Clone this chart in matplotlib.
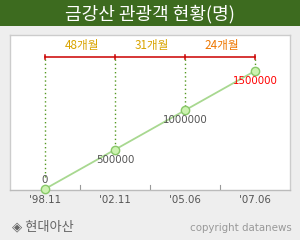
import matplotlib
matplotlib.use("Agg")
import matplotlib.pyplot as plt

plt.rcParams['font.family'] = ['Noto Sans CJK KR', 'DejaVu Sans']

title = "금강산 관광객 현황(명)"
periods = ["'98.11", "'02.11", "'05.06", "'07.06"]
visitors = [0, 500000, 1000000, 1500000]
value_labels = ["0", "500000", "1000000", "1500000"]
intervals = ["48개월", "31개월", "24개월"]
source = "◈ 현대아산"
credit = "copyright datanews"

fig = plt.figure(figsize=(3.0, 2.4), dpi=100)
fig.patch.set_facecolor('#eeeeee')

# title bar
bar = fig.add_axes([0, 1 - 26/240, 1, 26/240])
bar.set_facecolor('#3d6b1f')
bar.set_xticks([]); bar.set_yticks([])
for s in bar.spines.values():
    s.set_visible(False)
bar.text(0.5, 0.47, title, color='white', fontsize=13, fontweight='medium',
         ha='center', va='center', transform=bar.transAxes)

ax = fig.add_axes([10/300, 50/240, 280/300, 155/240])
ax.set_facecolor('white')
x = list(range(len(periods)))
ax.set_xlim(-0.5, len(periods) - 0.5)
ylo, yhi = -13000, 1957000
ax.set_ylim(ylo, yhi)

for s in ax.spines.values():
    s.set_color('#cccccc')
    s.set_linewidth(1.0)
ax.spines['bottom'].set_color('#bbbbbb')

ax.plot(x, visitors, color='#a8d890', lw=1.3, zorder=3)
ax.plot(x, visitors, 'o', ms=6, mfc='#ccf2b0', mec='#88c868', mew=1.0, zorder=4,
        clip_on=False)

# bracket
br_frac = 0.858
br_y = ylo + br_frac * (yhi - ylo)
ax.plot([x[0], x[-1]], [br_y, br_y], color='#cc0000', lw=1.1, zorder=3)
for xi in x:
    ax.plot([xi, xi], [br_y - 22000, br_y + 22000], color='#cc0000', lw=1.1, zorder=3)

# dotted drop lines
for i, (xi, v) in enumerate(zip(x, visitors)):
    bottom = v + (150000 if i == 0 else 0)
    ax.plot([xi, xi], [br_y - 22000, bottom], color='#559922', lw=1.0,
            linestyle=(0, (1, 2)), zorder=2)

# interval labels
int_colors = ['#d9a400', '#d9a400', '#ee7700']
for i, lab in enumerate(intervals):
    ax.text((x[i] + x[i + 1]) / 2 + 0.03, ylo + 0.935 * (yhi - ylo), lab,
            color=int_colors[i], fontsize=8.4, ha='center', va='center')

# value labels
for i, (xi, v, lab) in enumerate(zip(x, visitors, value_labels)):
    col = '#ff0000' if i == len(x) - 1 else '#555555'
    off = 9 if i == 0 else -10
    ax.annotate(lab, (xi, v), xytext=(0, off * 0.72), textcoords='offset points',
                ha='center', va='center', fontsize=7.4, color=col,
                family=['DejaVu Sans'])

ax.set_xticks(x)
ax.set_xticklabels(periods, fontsize=7.4, color='#555555', family=['DejaVu Sans'])
ax.tick_params(axis='x', length=0, pad=3.5)
ax.set_yticks([])
for b in [0.5, 1.5, 2.5]:
    ax.plot([b, b], [ylo, ylo + 0.03 * (yhi - ylo)], color='#999999', lw=0.8, zorder=2)

fig.text(12/300, 1 - 227/240, source, fontsize=9.5, color='#666666',
         ha='left', va='center')
fig.text(292/300, 1 - 228/240, credit, fontsize=7.4, color='#999999',
         ha='right', va='center', family=['DejaVu Sans'])

fig.savefig('out.png', dpi=100, facecolor=fig.get_facecolor())
